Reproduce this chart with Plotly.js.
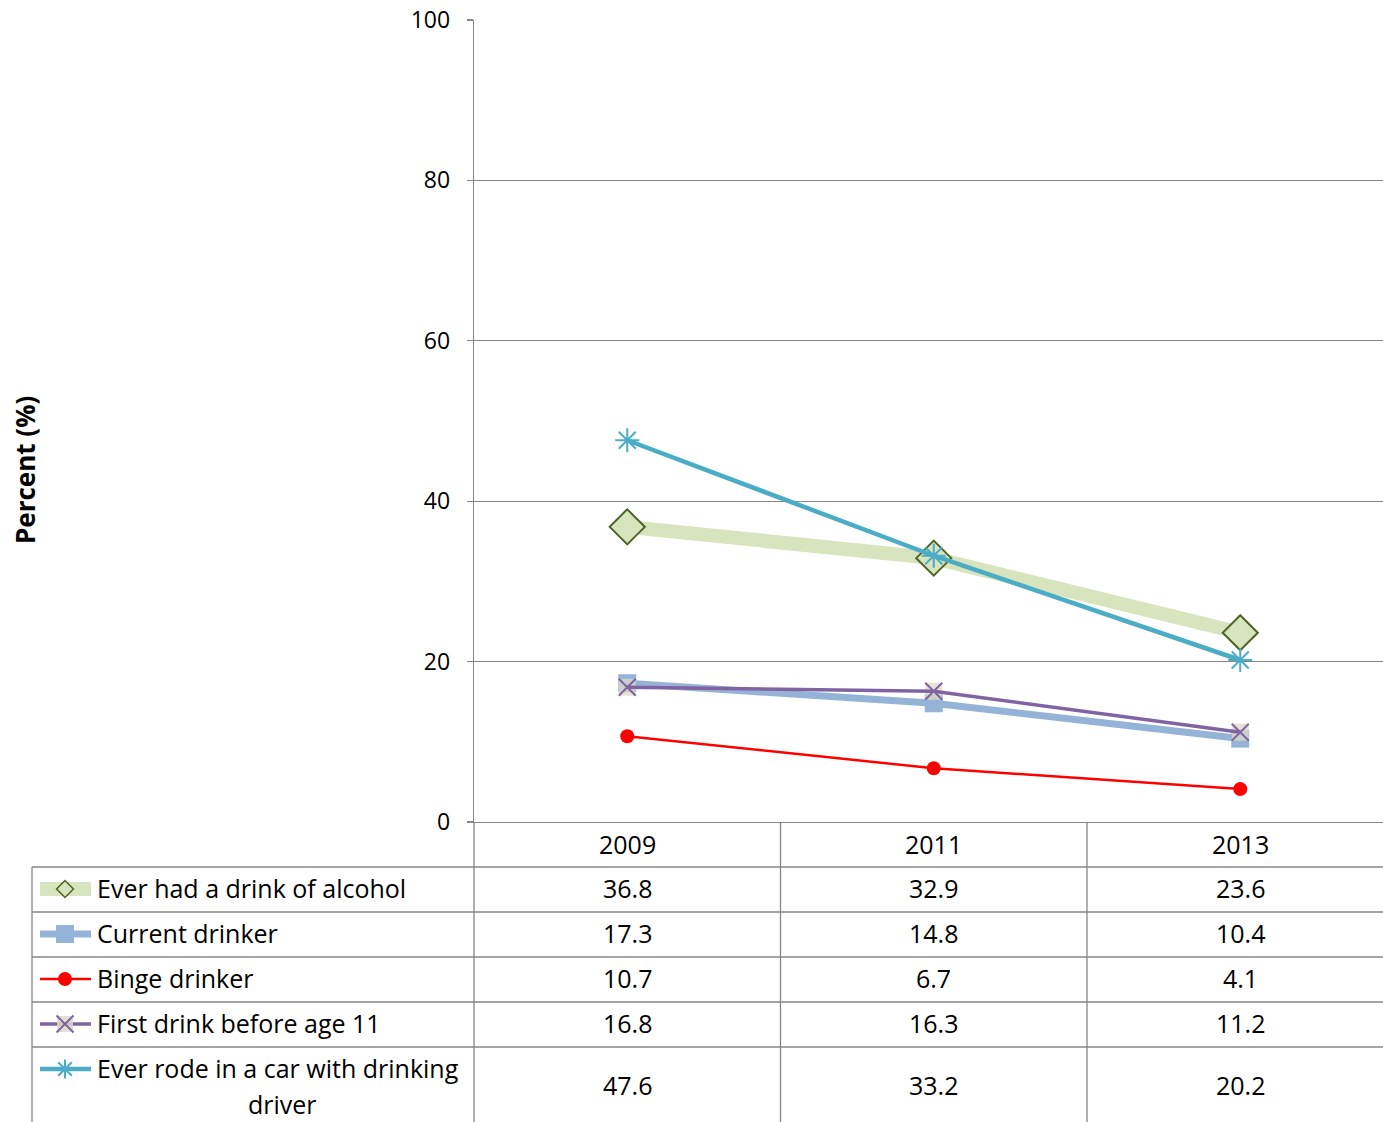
<!DOCTYPE html>
<html>
<head>
<meta charset="utf-8">
<script src="https://cdn.plot.ly/plotly-3.0.1.min.js"></script>
<style>html,body{margin:0;padding:0;background:#fff;}#chart{width:1383px;height:1122px;}</style>
</head>
<body>
<div id="chart"></div>
<script>
// ---------------- data ----------------
const years = ["2009", "2011", "2013"];
const seriesNames = [
  "Ever had a drink of alcohol",
  "Current drinker",
  "Binge drinker",
  "First drink before age 11",
  "Ever rode in a car with drinking driver"
];
const everDrink = [36.8, 32.9, 23.6];
const currentDrinker = [17.3, 14.8, 10.4];
const bingeDrinker = [10.7, 6.7, 4.1];
const firstDrinkBefore11 = [16.8, 16.3, 11.2];
const everRode = [47.6, 33.2, 20.2];
const yTicks = [0, 20, 40, 60, 80, 100];
const yAxisTitle = "Percent (%)";

// ---------------- layout helpers ----------------
const W = 1383, H = 1122;
const px = x => x / W;
const py = y => 1 - y / H;
const FONT = "'Open Sans', Lato, 'DejaVu Sans', sans-serif";
const GRID = "#868686";
const plotL = 474, plotR = 1383, plotT = 20, plotB = 822;
const cellW = 306.5;                       // width of one category cell (last one runs past the right edge)
const colCenter = j => plotL + cellW * (j + 0.5);
const xRangeMax = -0.5 + (plotR - plotL) / cellW;
const rowEdges = [867, 912, 957, 1002, 1047, 1122];
const rowTextY = [888, 933, 978, 1023, 1085];
const keyY = [889, 934, 979, 1024, 1069];
const TXT = 25;

const values = [everDrink, currentDrinker, bingeDrinker, firstDrinkBefore11, everRode];

const styles = [
  {line: {color: "#D7E4BD", width: 14}, marker: {symbol: "diamond", size: 27, color: "#D7E4BD", line: {color: "#4F6228", width: 2}},
   key: {line: {color: "#D7E4BD", width: 14}, marker: {symbol: "diamond", size: 13, color: "#D7E4BD", line: {color: "#4F6228", width: 1.5}}}},
  {line: {color: "#95B3D7", width: 7}, marker: {symbol: "square", size: 18, color: "#95B3D7", line: {width: 0}},
   key: {line: {color: "#95B3D7", width: 7}, marker: {symbol: "square", size: 18, color: "#95B3D7", line: {width: 0}}}},
  {line: {color: "#FF0000", width: 2.5}, marker: {symbol: "circle", size: 14, color: "#FF0000", line: {width: 0}},
   key: {line: {color: "#FF0000", width: 2.5}, marker: {symbol: "circle", size: 14, color: "#FF0000", line: {width: 0}}}},
  {line: {color: "#8064A2", width: 3.5}, marker: {symbol: "x-thin", size: 17, color: "#8064A2", line: {color: "#8064A2", width: 2}},
   key: {line: {color: "#8064A2", width: 3.5}, marker: {symbol: "x-thin", size: 17, color: "#8064A2", line: {color: "#8064A2", width: 2}}}},
  {line: {color: "#4BACC6", width: 4.5}, marker: {symbol: "asterisk-open", size: 20, color: "#4BACC6", line: {color: "#4BACC6", width: 2}},
   key: {line: {color: "#4BACC6", width: 4.5}, marker: {symbol: "asterisk-open", size: 16, color: "#4BACC6", line: {color: "#4BACC6", width: 2}}}}
];

const traces = [];
values.forEach((vals, i) => {
  if (i === 3) {
    traces.push({x: years, y: vals, xaxis: "x", yaxis: "y", mode: "markers", showlegend: false, hoverinfo: "skip",
      marker: {symbol: "square", size: 17, color: "rgba(221,217,200,0.75)"}, cliponaxis: false});
  }
  traces.push({x: years, y: vals, xaxis: "x", yaxis: "y", mode: "lines+markers", name: seriesNames[i],
    showlegend: false, line: styles[i].line, marker: styles[i].marker, cliponaxis: false});
});

// legend keys inside the data table (overlay axis in pixel units)
values.forEach((vals, i) => {
  traces.push({x: [40, 91], y: [keyY[i], keyY[i]], xaxis: "x2", yaxis: "y2", mode: "lines", showlegend: false, hoverinfo: "skip",
    line: styles[i].key.line, cliponaxis: false});
  if (i === 3) {
    traces.push({x: [65], y: [keyY[i]], xaxis: "x2", yaxis: "y2", mode: "markers", showlegend: false, hoverinfo: "skip",
      marker: {symbol: "square", size: 16, color: "rgba(221,217,200,0.85)"}, cliponaxis: false});
  }
  traces.push({x: [65], y: [keyY[i]], xaxis: "x2", yaxis: "y2", mode: "markers", showlegend: false, hoverinfo: "skip",
    marker: styles[i].key.marker, cliponaxis: false});
});

const shapes = [];
const lineStyle = {color: GRID, width: 1.3};
[0, 1, 2].map(j => plotL + cellW * j).forEach(x => shapes.push({type: "line", xref: "paper", yref: "paper", x0: px(x), x1: px(x), y0: py(plotB), y1: py(H), line: lineStyle}));
shapes.push({type: "line", xref: "paper", yref: "paper", x0: px(32), x1: px(32), y0: py(867), y1: py(H), line: lineStyle});
rowEdges.slice(0, 5).forEach(y => shapes.push({type: "line", xref: "paper", yref: "paper", x0: px(32), x1: px(W), y0: py(y), y1: py(y), line: lineStyle}));

const annotations = [];
years.forEach((yr, j) => annotations.push({xref: "paper", yref: "paper", x: px(colCenter(j)), y: py(844),
  text: yr, showarrow: false, xanchor: "center", yanchor: "middle", font: {family: FONT, size: TXT, color: "#000"}}));
values.forEach((vals, i) => {
  vals.forEach((v, j) => annotations.push({xref: "paper", yref: "paper", x: px(colCenter(j)), y: py(rowTextY[i]),
    text: v.toFixed(1), showarrow: false, xanchor: "center", yanchor: "middle", font: {family: FONT, size: TXT, color: "#000"}}));
});
seriesNames.forEach((name, i) => {
  if (i < 4) {
    annotations.push({xref: "paper", yref: "paper", x: px(95), y: py(keyY[i] - 1), text: name, showarrow: false,
      xanchor: "left", yanchor: "middle", font: {family: FONT, size: TXT, color: "#000"}});
  } else {
    const words = name.split(" ");
    const first = words.slice(0, -1).join(" ");
    const last = words[words.length - 1];
    annotations.push({xref: "paper", yref: "paper", x: px(95), y: py(keyY[i] - 1), text: first, showarrow: false,
      xanchor: "left", yanchor: "middle", font: {family: FONT, size: TXT, color: "#000"}});
    annotations.push({xref: "paper", yref: "paper", x: px(282), y: py(1104), text: last, showarrow: false,
      xanchor: "center", yanchor: "middle", font: {family: FONT, size: TXT, color: "#000"}});
  }
});
annotations.push({xref: "paper", yref: "paper", x: px(25), y: py(470), text: "<b>" + yAxisTitle + "</b>", showarrow: false,
  textangle: -90, xanchor: "center", yanchor: "middle", font: {family: FONT, size: 26, color: "#000"}});

const layout = {
  width: W, height: H,
  margin: {l: 0, r: 0, t: 0, b: 0, pad: 0},
  paper_bgcolor: "#fff", plot_bgcolor: "rgba(0,0,0,0)",
  showlegend: false,
  font: {family: FONT, size: 22, color: "#000"},
  xaxis: {domain: [px(plotL), px(plotR)], anchor: "y", type: "category", categoryorder: "array", categoryarray: years,
    range: [-0.5, xRangeMax], showticklabels: false, ticks: "", showgrid: false, zeroline: false,
    showline: true, linecolor: GRID, linewidth: 1.3, fixedrange: true},
  yaxis: {domain: [py(plotB), py(plotT)], anchor: "x", range: [0, 100], tickvals: yTicks, ticktext: yTicks.map(String),
    ticks: "outside", ticklen: 6, tickcolor: GRID, tickwidth: 1.3, showline: true, linecolor: GRID, linewidth: 1.3,
    showgrid: true, gridcolor: GRID, gridwidth: 1.3, zeroline: false, ticklabelstandoff: 12,
    tickfont: {family: FONT, size: 23, color: "#000"}, fixedrange: true},
  xaxis2: {domain: [0, 1], anchor: "y2", range: [0, W], visible: false, fixedrange: true},
  yaxis2: {domain: [0, 1], anchor: "x2", range: [H, 0], visible: false, fixedrange: true},
  shapes: shapes,
  annotations: annotations
};

Plotly.newPlot("chart", traces, layout, {displayModeBar: false, staticPlot: true});
</script>
</body>
</html>
